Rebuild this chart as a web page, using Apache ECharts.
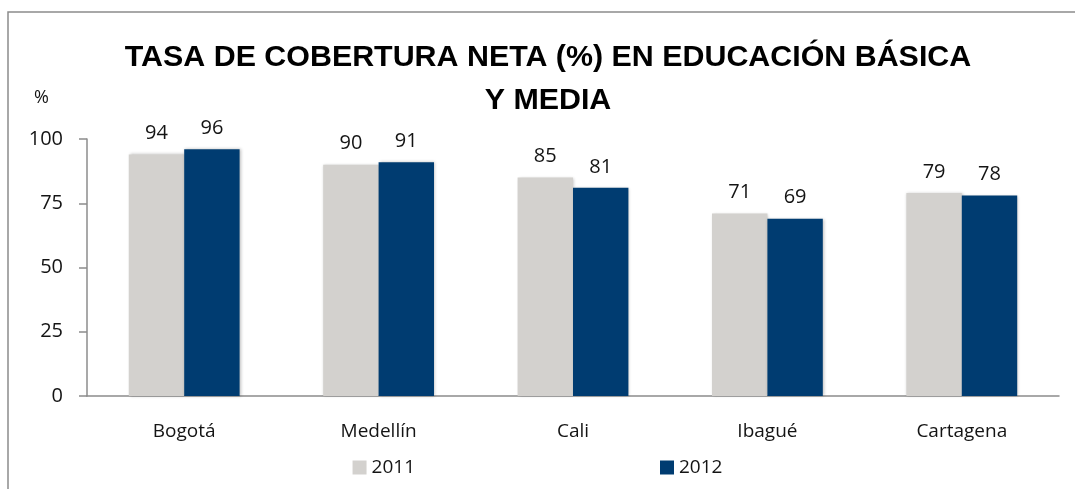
<!DOCTYPE html>
<html>
<head>
<meta charset="utf-8">
<script src="https://cdn.jsdelivr.net/npm/echarts@6/dist/echarts.min.js"></script>
<style>
  html, body { margin: 0; padding: 0; background: #fff; }
  #chart { width: 1075px; height: 489px; }
</style>
</head>
<body>
<div id="chart"></div>
<script>
// datos
const ciudades = ['Bogotá', 'Medellín', 'Cali', 'Ibagué', 'Cartagena'];
const valores2011 = [94, 90, 85, 71, 79];
const valores2012 = [96, 91, 81, 69, 78];
const ticksY = [0, 25, 50, 75, 100];

const chart = echarts.init(document.getElementById('chart'), null, { renderer: 'canvas' });

const fuente = 'Open Sans';
const colorTexto = '#141414';

const barShadow = {
    shadowColor: 'rgba(0,0,0,0.25)',
    shadowBlur: 3,
    shadowOffsetX: 1,
    shadowOffsetY: 0
};

const option = {
    backgroundColor: '#fff',
    animation: false,
    graphic: [
        {
            type: 'rect',
            shape: { x: 8, y: 12, width: 1100, height: 500 },
            style: { fill: 'none', stroke: '#8c8c8c', lineWidth: 1.5 },
            silent: true
        },
        {
            // título (centrado un poco a la derecha del centro del lienzo)
            type: 'text',
            x: 548,
            y: 36,
            style: {
                text: 'TASA DE COBERTURA NETA (%) EN EDUCACIÓN BÁSICA\nY MEDIA',
                align: 'center',
                verticalAlign: 'top',
                fontFamily: 'Liberation Sans',
                fontSize: 30.4,
                fontWeight: 'bold',
                lineHeight: 43,
                fill: '#000'
            }
        },
        {
            type: 'text',
            left: 34,
            top: 89,
            style: { text: '%', fontFamily: fuente, fontSize: 18, fill: colorTexto }
        }
    ],
    legend: {
        data: ['2011', '2012'],
        bottom: 7,
        left: 'center',
        itemWidth: 14,
        itemHeight: 14,
        itemGap: 245,
        icon: 'rect',
        textStyle: { fontFamily: fuente, fontSize: 19, color: colorTexto }
    },
    grid: {
        left: 87,
        right: 16,
        top: 139,
        bottom: 93,
        containLabel: false
    },
    xAxis: {
        type: 'category',
        data: ciudades,
        axisLine: { lineStyle: { color: '#8c8c8c', width: 1.5 } },
        axisTick: { show: false },
        axisLabel: {
            margin: 26,
            fontFamily: fuente,
            fontSize: 19,
            color: colorTexto
        }
    },
    yAxis: {
        type: 'value',
        min: ticksY[0],
        max: ticksY[ticksY.length - 1],
        interval: 25,
        splitLine: { show: false },
        axisLine: { show: true, lineStyle: { color: '#8c8c8c', width: 1.5 } },
        axisTick: { show: true, length: 8, lineStyle: { color: '#8c8c8c', width: 1.5 } },
        axisLabel: {
            margin: 24,
            fontFamily: fuente,
            fontSize: 20,
            color: colorTexto
        }
    },
    series: [
        {
            name: '2011',
            type: 'bar',
            data: valores2011,
            barGap: '0%',
            barCategoryGap: '43%',
            itemStyle: Object.assign({ color: '#D3D1CE' }, barShadow),
            label: {
                show: true,
                position: 'top',
                distance: 11,
                fontFamily: fuente,
                fontSize: 20,
                color: colorTexto
            }
        },
        {
            name: '2012',
            type: 'bar',
            data: valores2012,
            itemStyle: Object.assign({ color: '#003C71' }, barShadow),
            label: {
                show: true,
                position: 'top',
                distance: 11,
                fontFamily: fuente,
                fontSize: 20,
                color: colorTexto
            }
        }
    ]
};

chart.setOption(option);
</script>
</body>
</html>
